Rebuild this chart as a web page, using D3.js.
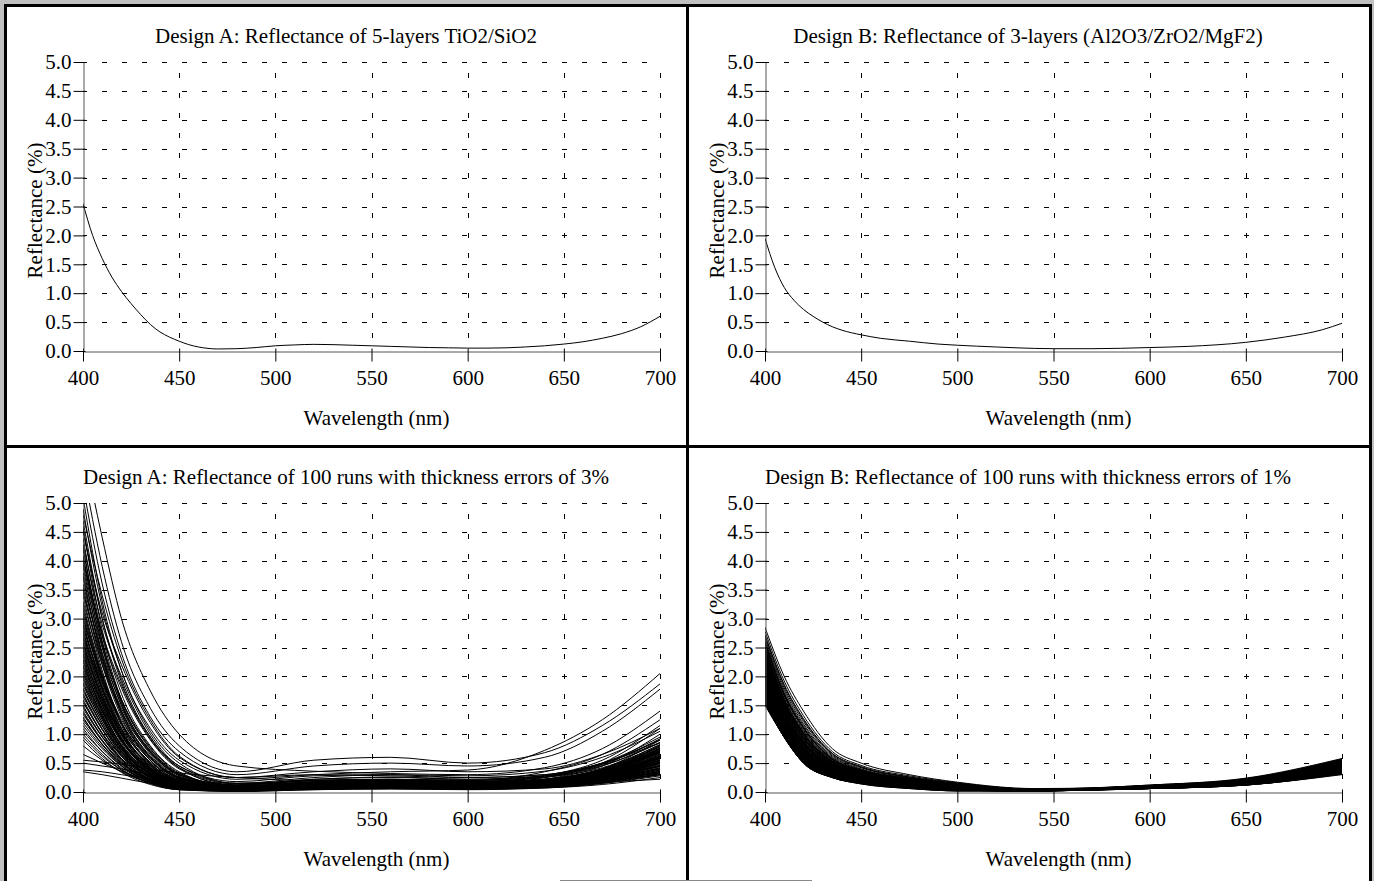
<!DOCTYPE html>
<html lang="en">
<head>
<meta charset="UTF-8">
<title>Reflectance of Design A and Design B</title>
<style>
  body { margin: 0; background: #c0c0c0; }
  svg { display: block; }
</style>
</head>
<body>
<svg id="chart" width="1374" height="881"></svg>
<script src="https://d3js.org/d3.v7.min.js"></script>
<script>
// ---- data ----
const X_TICKS = [400, 450, 500, 550, 600, 650, 700];
const Y_TICKS = [0, 0.5, 1, 1.5, 2, 2.5, 3, 3.5, 4, 4.5, 5];

const TITLES = [
  "Design A: Reflectance of 5-layers TiO2/SiO2",
  "Design B: Reflectance of 3-layers (Al2O3/ZrO2/MgF2)",
  "Design A: Reflectance of 100 runs with thickness errors of 3%",
  "Design B: Reflectance of 100 runs with thickness errors of 1%"
];
const X_LABEL = "Wavelength (nm)";
const Y_LABEL = "Reflectance (%)";

// nominal design A
const WL_NOMINAL_A = [400, 405, 410, 415, 420, 425, 430, 435, 440, 445, 450, 455, 460, 465, 470, 480, 490, 500, 510, 520, 530, 540, 550, 560, 570, 580, 590, 600, 610, 620, 630, 640, 650, 660, 670, 680, 690, 700];
const REFL_NOMINAL_A = [2.55, 2.0, 1.6, 1.28, 1.03, 0.82, 0.63, 0.46, 0.33, 0.24, 0.17, 0.11, 0.07, 0.045, 0.035, 0.04, 0.06, 0.09, 0.105, 0.115, 0.11, 0.1, 0.09, 0.08, 0.07, 0.06, 0.055, 0.05, 0.05, 0.055, 0.07, 0.09, 0.12, 0.16, 0.22, 0.3, 0.42, 0.6];

// nominal design B
const WL_NOMINAL_B = [400, 405, 410, 415, 420, 425, 430, 435, 440, 450, 460, 475, 490, 500, 520, 540, 550, 570, 600, 620, 650, 670, 690, 700];
const REFL_NOMINAL_B = [1.95, 1.45, 1.1, 0.88, 0.72, 0.6, 0.5, 0.42, 0.36, 0.28, 0.22, 0.17, 0.12, 0.1, 0.07, 0.045, 0.04, 0.04, 0.06, 0.08, 0.15, 0.24, 0.37, 0.48];

// design A, 100 runs with 3% thickness errors
const WL_RUNS_A = [400, 410, 420, 435, 450, 480, 520, 560, 600, 640, 670, 700];
const RUNS_A = [
  [6.0, 4.4, 3.0, 1.75, 1.0, 0.45, 0.36, 0.32, 0.3, 0.42, 0.75, 1.4],
  [5.6, 3.9, 2.6, 1.45, 0.8, 0.35, 0.55, 0.6, 0.5, 0.68, 1.15, 1.87],
  [5.3, 3.6, 2.4, 1.3, 0.7, 0.3, 0.45, 0.5, 0.45, 0.6, 1.05, 1.78],
  [5.1, 3.3, 2.1, 1.1, 0.55, 0.22, 0.3, 0.35, 0.38, 0.72, 1.25, 2.05],
  [4.9, 3.2, 2.1, 1.05, 0.5, 0.15, 0.2, 0.22, 0.2, 0.35, 0.65, 1.25],
  [4.7, 3.0, 1.9, 0.95, 0.42, 0.1, 0.15, 0.18, 0.15, 0.28, 0.55, 1.15],
  [4.6, 2.8, 1.7, 0.8, 0.35, 0.08, 0.12, 0.15, 0.12, 0.25, 0.5, 1.1],
  [4.5, 3.1, 2.2, 1.2, 0.6, 0.25, 0.3, 0.28, 0.25, 0.3, 0.5, 0.9],
  [4.4, 2.7, 1.6, 0.75, 0.3, 0.05, 0.1, 0.12, 0.1, 0.22, 0.45, 1.0],
  [4.3, 2.9, 2.0, 1.0, 0.45, 0.15, 0.25, 0.3, 0.25, 0.3, 0.5, 0.85],
  [4.2, 2.6, 1.55, 0.7, 0.28, 0.06, 0.1, 0.1, 0.08, 0.15, 0.35, 0.8],
  [4.1, 2.5, 1.5, 0.65, 0.25, 0.04, 0.12, 0.15, 0.12, 0.2, 0.4, 0.9],
  [4.0, 2.7, 1.8, 0.9, 0.4, 0.12, 0.2, 0.22, 0.2, 0.28, 0.5, 0.95],
  [3.9, 2.4, 1.4, 0.6, 0.22, 0.03, 0.08, 0.1, 0.08, 0.15, 0.35, 0.75],
  [3.8, 2.5, 1.6, 0.78, 0.33, 0.1, 0.18, 0.2, 0.18, 0.25, 0.45, 0.85],
  [3.7, 2.3, 1.35, 0.55, 0.2, 0.03, 0.06, 0.08, 0.06, 0.12, 0.3, 0.7],
  [3.6, 2.4, 1.5, 0.72, 0.3, 0.09, 0.15, 0.18, 0.16, 0.22, 0.4, 0.8],
  [3.5, 2.2, 1.3, 0.55, 0.2, 0.05, 0.1, 0.12, 0.1, 0.18, 0.38, 0.78],
  [3.4, 2.1, 1.2, 0.5, 0.18, 0.04, 0.12, 0.15, 0.12, 0.18, 0.35, 0.7],
  [3.3, 2.2, 1.4, 0.68, 0.3, 0.12, 0.2, 0.2, 0.18, 0.22, 0.38, 0.72],
  [3.2, 2.0, 1.15, 0.48, 0.16, 0.03, 0.08, 0.1, 0.08, 0.14, 0.3, 0.65],
  [3.1, 1.95, 1.1, 0.45, 0.15, 0.04, 0.1, 0.12, 0.1, 0.16, 0.32, 0.68],
  [3.0, 2.0, 1.25, 0.6, 0.25, 0.1, 0.18, 0.2, 0.16, 0.2, 0.35, 0.7],
  [2.95, 1.8, 1.0, 0.4, 0.12, 0.02, 0.06, 0.08, 0.06, 0.12, 0.28, 0.6],
  [2.9, 1.85, 1.05, 0.42, 0.14, 0.05, 0.12, 0.14, 0.12, 0.18, 0.36, 0.74],
  [2.85, 1.9, 1.2, 0.58, 0.26, 0.12, 0.2, 0.22, 0.2, 0.26, 0.42, 0.82],
  [2.8, 1.75, 1.0, 0.4, 0.13, 0.03, 0.08, 0.1, 0.08, 0.14, 0.32, 0.66],
  [2.75, 1.7, 0.95, 0.38, 0.12, 0.04, 0.1, 0.12, 0.1, 0.15, 0.3, 0.62],
  [2.7, 1.8, 1.1, 0.52, 0.22, 0.1, 0.16, 0.18, 0.15, 0.2, 0.36, 0.7],
  [2.65, 1.65, 0.92, 0.36, 0.11, 0.03, 0.07, 0.09, 0.07, 0.12, 0.26, 0.55],
  [2.6, 1.6, 0.9, 0.35, 0.1, 0.02, 0.06, 0.08, 0.06, 0.1, 0.24, 0.52],
  [2.55, 1.6, 1.02, 0.45, 0.17, 0.04, 0.115, 0.08, 0.05, 0.09, 0.22, 0.6],
  [2.5, 1.65, 1.0, 0.48, 0.2, 0.08, 0.14, 0.15, 0.12, 0.18, 0.35, 0.72],
  [2.45, 1.5, 0.85, 0.33, 0.1, 0.03, 0.08, 0.1, 0.08, 0.12, 0.26, 0.56],
  [2.4, 1.55, 0.92, 0.42, 0.17, 0.06, 0.12, 0.14, 0.12, 0.16, 0.3, 0.62],
  [2.35, 1.45, 0.8, 0.3, 0.08, 0.02, 0.06, 0.08, 0.07, 0.11, 0.24, 0.5],
  [2.3, 1.5, 0.9, 0.4, 0.16, 0.07, 0.13, 0.15, 0.13, 0.18, 0.33, 0.68],
  [2.25, 1.4, 0.78, 0.3, 0.09, 0.03, 0.08, 0.1, 0.08, 0.12, 0.25, 0.5],
  [2.2, 1.45, 0.88, 0.4, 0.17, 0.08, 0.15, 0.16, 0.14, 0.2, 0.36, 0.7],
  [2.15, 1.35, 0.75, 0.28, 0.08, 0.02, 0.05, 0.07, 0.06, 0.1, 0.22, 0.46],
  [2.1, 1.38, 0.82, 0.36, 0.14, 0.06, 0.12, 0.14, 0.12, 0.16, 0.3, 0.6],
  [2.05, 1.3, 0.72, 0.27, 0.08, 0.03, 0.07, 0.09, 0.08, 0.12, 0.25, 0.52],
  [2.0, 1.32, 0.8, 0.36, 0.15, 0.08, 0.15, 0.18, 0.16, 0.22, 0.4, 0.78],
  [1.95, 1.25, 0.7, 0.26, 0.07, 0.02, 0.06, 0.08, 0.06, 0.1, 0.2, 0.42],
  [1.9, 1.25, 0.75, 0.33, 0.13, 0.06, 0.12, 0.13, 0.12, 0.15, 0.28, 0.55],
  [1.85, 1.2, 0.7, 0.28, 0.1, 0.04, 0.1, 0.12, 0.1, 0.14, 0.28, 0.58],
  [1.8, 1.15, 0.65, 0.25, 0.07, 0.02, 0.06, 0.08, 0.07, 0.1, 0.2, 0.4],
  [1.75, 1.15, 0.7, 0.32, 0.14, 0.07, 0.14, 0.16, 0.14, 0.18, 0.32, 0.62],
  [1.7, 1.1, 0.62, 0.24, 0.07, 0.03, 0.08, 0.1, 0.08, 0.12, 0.24, 0.48],
  [1.65, 1.08, 0.64, 0.28, 0.11, 0.05, 0.11, 0.12, 0.11, 0.14, 0.26, 0.5],
  [1.6, 1.02, 0.58, 0.22, 0.06, 0.02, 0.05, 0.07, 0.06, 0.09, 0.18, 0.36],
  [1.55, 1.02, 0.62, 0.28, 0.12, 0.06, 0.13, 0.15, 0.13, 0.17, 0.3, 0.58],
  [1.5, 0.95, 0.54, 0.2, 0.05, 0.01, 0.04, 0.06, 0.05, 0.08, 0.16, 0.32],
  [1.45, 0.95, 0.58, 0.26, 0.11, 0.06, 0.12, 0.13, 0.12, 0.15, 0.27, 0.52],
  [1.4, 0.9, 0.52, 0.2, 0.06, 0.03, 0.08, 0.1, 0.08, 0.11, 0.22, 0.44],
  [1.35, 0.88, 0.52, 0.22, 0.09, 0.05, 0.1, 0.12, 0.1, 0.13, 0.24, 0.46],
  [1.3, 0.82, 0.46, 0.17, 0.04, 0.01, 0.04, 0.05, 0.04, 0.07, 0.15, 0.3],
  [1.25, 0.82, 0.5, 0.22, 0.1, 0.06, 0.13, 0.15, 0.13, 0.16, 0.28, 0.5],
  [1.2, 0.78, 0.45, 0.18, 0.06, 0.03, 0.08, 0.1, 0.08, 0.11, 0.2, 0.38],
  [1.15, 0.75, 0.45, 0.2, 0.09, 0.05, 0.11, 0.12, 0.1, 0.13, 0.24, 0.45],
  [1.1, 0.7, 0.4, 0.15, 0.04, 0.02, 0.05, 0.07, 0.06, 0.08, 0.15, 0.28],
  [1.05, 0.7, 0.42, 0.19, 0.08, 0.05, 0.1, 0.12, 0.1, 0.12, 0.22, 0.4],
  [1.0, 0.65, 0.38, 0.15, 0.05, 0.03, 0.07, 0.08, 0.07, 0.09, 0.17, 0.32],
  [0.95, 0.62, 0.38, 0.17, 0.08, 0.05, 0.1, 0.11, 0.1, 0.12, 0.2, 0.36],
  [0.9, 0.58, 0.34, 0.13, 0.04, 0.02, 0.05, 0.06, 0.05, 0.07, 0.13, 0.25],
  [0.8, 0.55, 0.35, 0.16, 0.07, 0.04, 0.08, 0.1, 0.09, 0.11, 0.18, 0.3],
  [0.55, 0.52, 0.48, 0.4, 0.33, 0.25, 0.2, 0.2, 0.18, 0.2, 0.28, 0.45],
  [0.5, 0.45, 0.4, 0.3, 0.22, 0.15, 0.15, 0.16, 0.15, 0.18, 0.25, 0.4],
  [0.38, 0.35, 0.3, 0.22, 0.15, 0.1, 0.12, 0.14, 0.13, 0.15, 0.2, 0.3],
  [0.35, 0.3, 0.24, 0.15, 0.08, 0.05, 0.08, 0.1, 0.1, 0.12, 0.17, 0.22],
  [0.65, 0.5, 0.36, 0.2, 0.1, 0.06, 0.1, 0.12, 0.11, 0.13, 0.2, 0.33],
  [4.8, 3.4, 2.3, 1.25, 0.62, 0.25, 0.35, 0.4, 0.35, 0.4, 0.65, 1.1],
  [4.55, 3.0, 1.95, 0.95, 0.45, 0.18, 0.28, 0.3, 0.28, 0.36, 0.6, 1.05],
  [4.25, 2.6, 1.55, 0.68, 0.26, 0.05, 0.08, 0.08, 0.06, 0.14, 0.32, 0.7],
  [3.95, 2.55, 1.6, 0.75, 0.32, 0.1, 0.16, 0.2, 0.18, 0.26, 0.48, 0.9],
  [3.75, 2.35, 1.4, 0.62, 0.24, 0.06, 0.12, 0.14, 0.12, 0.2, 0.4, 0.82],
  [3.55, 2.25, 1.35, 0.6, 0.24, 0.08, 0.14, 0.16, 0.14, 0.2, 0.36, 0.74],
  [3.45, 2.3, 1.45, 0.7, 0.3, 0.12, 0.22, 0.25, 0.22, 0.28, 0.46, 0.86],
  [3.25, 2.05, 1.2, 0.5, 0.18, 0.05, 0.1, 0.12, 0.1, 0.16, 0.34, 0.68],
  [3.15, 2.0, 1.18, 0.5, 0.2, 0.07, 0.14, 0.16, 0.14, 0.2, 0.38, 0.76],
  [3.05, 1.9, 1.08, 0.43, 0.14, 0.03, 0.07, 0.09, 0.07, 0.13, 0.28, 0.58],
  [2.98, 1.95, 1.2, 0.55, 0.24, 0.1, 0.17, 0.19, 0.17, 0.22, 0.38, 0.75],
  [2.88, 1.8, 1.02, 0.4, 0.13, 0.03, 0.06, 0.08, 0.07, 0.12, 0.26, 0.54],
  [2.78, 1.78, 1.05, 0.46, 0.18, 0.06, 0.12, 0.14, 0.12, 0.18, 0.34, 0.7],
  [2.68, 1.7, 0.98, 0.42, 0.16, 0.06, 0.12, 0.14, 0.12, 0.17, 0.32, 0.64],
  [2.58, 1.62, 0.92, 0.37, 0.12, 0.04, 0.09, 0.11, 0.09, 0.14, 0.28, 0.58],
  [2.48, 1.56, 0.9, 0.38, 0.14, 0.05, 0.1, 0.12, 0.1, 0.15, 0.3, 0.62],
  [2.38, 1.52, 0.88, 0.37, 0.14, 0.05, 0.1, 0.12, 0.11, 0.15, 0.3, 0.6],
  [2.28, 1.42, 0.8, 0.32, 0.1, 0.03, 0.07, 0.09, 0.08, 0.12, 0.25, 0.5],
  [2.18, 1.4, 0.8, 0.34, 0.13, 0.05, 0.1, 0.12, 0.1, 0.15, 0.28, 0.55],
  [2.08, 1.32, 0.76, 0.31, 0.11, 0.04, 0.09, 0.11, 0.09, 0.13, 0.26, 0.52],
  [1.98, 1.28, 0.74, 0.3, 0.11, 0.04, 0.09, 0.11, 0.09, 0.13, 0.26, 0.5],
  [1.88, 1.2, 0.68, 0.27, 0.09, 0.03, 0.08, 0.1, 0.08, 0.12, 0.24, 0.46],
  [1.78, 1.15, 0.66, 0.27, 0.1, 0.04, 0.09, 0.11, 0.09, 0.12, 0.23, 0.45],
  [1.68, 1.08, 0.62, 0.25, 0.09, 0.04, 0.09, 0.1, 0.09, 0.12, 0.22, 0.42],
  [1.58, 1.0, 0.57, 0.22, 0.07, 0.03, 0.07, 0.09, 0.07, 0.1, 0.19, 0.38],
  [1.48, 0.96, 0.56, 0.23, 0.08, 0.04, 0.09, 0.1, 0.09, 0.12, 0.22, 0.4],
  [1.38, 0.88, 0.5, 0.2, 0.07, 0.03, 0.07, 0.09, 0.08, 0.1, 0.18, 0.34],
  [1.28, 0.83, 0.48, 0.2, 0.07, 0.03, 0.07, 0.09, 0.08, 0.1, 0.19, 0.35],
  [4.05, 2.75, 1.85, 0.92, 0.42, 0.14, 0.22, 0.26, 0.22, 0.28, 0.48, 0.92]
];

// design B, 100 runs with 1% thickness errors
const WL_RUNS_B = [400, 410, 420, 435, 450, 475, 500, 540, 600, 650, 700];
const RUNS_B = [
  [2.85, 2.00, 1.40, 0.75, 0.50, 0.30, 0.17, 0.06, 0.10, 0.20, 0.50],
  [2.78, 1.92, 1.32, 0.70, 0.46, 0.28, 0.16, 0.05, 0.08, 0.17, 0.42],
  [2.72, 1.86, 1.27, 0.67, 0.44, 0.26, 0.15, 0.05, 0.11, 0.22, 0.55],
  [2.66, 1.80, 1.22, 0.64, 0.42, 0.25, 0.14, 0.05, 0.07, 0.15, 0.36],
  [2.62, 1.76, 1.18, 0.62, 0.40, 0.24, 0.13, 0.05, 0.12, 0.24, 0.58],
  [2.58, 1.72, 1.15, 0.60, 0.39, 0.23, 0.13, 0.04, 0.09, 0.19, 0.47],
  [2.55, 1.69, 1.12, 0.58, 0.38, 0.23, 0.13, 0.04, 0.06, 0.13, 0.34],
  [2.52, 1.66, 1.10, 0.57, 0.37, 0.22, 0.12, 0.04, 0.10, 0.21, 0.52],
  [2.49, 1.63, 1.07, 0.56, 0.36, 0.21, 0.12, 0.04, 0.08, 0.16, 0.40],
  [2.46, 1.60, 1.05, 0.55, 0.35, 0.21, 0.12, 0.04, 0.11, 0.23, 0.56],
  [2.44, 1.58, 1.03, 0.54, 0.35, 0.20, 0.11, 0.04, 0.07, 0.14, 0.37],
  [2.42, 1.56, 1.01, 0.53, 0.34, 0.20, 0.11, 0.04, 0.09, 0.18, 0.46],
  [2.40, 1.54, 1.00, 0.52, 0.34, 0.20, 0.11, 0.04, 0.10, 0.20, 0.50],
  [2.38, 1.52, 0.98, 0.51, 0.33, 0.19, 0.11, 0.04, 0.06, 0.12, 0.32],
  [2.36, 1.50, 0.97, 0.50, 0.33, 0.19, 0.10, 0.04, 0.12, 0.23, 0.57],
  [2.34, 1.49, 0.95, 0.49, 0.32, 0.19, 0.10, 0.04, 0.08, 0.17, 0.43],
  [2.32, 1.47, 0.94, 0.49, 0.32, 0.18, 0.10, 0.04, 0.09, 0.19, 0.48],
  [2.30, 1.46, 0.93, 0.48, 0.31, 0.18, 0.10, 0.04, 0.07, 0.15, 0.39],
  [2.28, 1.44, 0.92, 0.47, 0.31, 0.18, 0.10, 0.04, 0.11, 0.22, 0.54],
  [2.26, 1.43, 0.90, 0.47, 0.30, 0.17, 0.10, 0.04, 0.08, 0.16, 0.41],
  [2.24, 1.41, 0.89, 0.46, 0.30, 0.17, 0.09, 0.04, 0.10, 0.20, 0.51],
  [2.22, 1.40, 0.88, 0.45, 0.29, 0.17, 0.09, 0.04, 0.06, 0.13, 0.35],
  [2.20, 1.38, 0.87, 0.45, 0.29, 0.17, 0.09, 0.04, 0.09, 0.18, 0.45],
  [2.18, 1.37, 0.86, 0.44, 0.28, 0.16, 0.09, 0.04, 0.11, 0.21, 0.53],
  [2.16, 1.35, 0.85, 0.44, 0.28, 0.16, 0.09, 0.03, 0.07, 0.14, 0.36],
  [2.14, 1.34, 0.84, 0.43, 0.28, 0.16, 0.09, 0.03, 0.08, 0.17, 0.44],
  [2.12, 1.33, 0.83, 0.43, 0.27, 0.16, 0.08, 0.03, 0.10, 0.19, 0.49],
  [2.10, 1.31, 0.82, 0.42, 0.27, 0.15, 0.08, 0.03, 0.06, 0.12, 0.33],
  [2.08, 1.30, 0.81, 0.42, 0.27, 0.15, 0.08, 0.03, 0.09, 0.18, 0.46],
  [2.06, 1.28, 0.80, 0.41, 0.26, 0.15, 0.08, 0.03, 0.11, 0.22, 0.55],
  [2.05, 1.27, 0.79, 0.41, 0.26, 0.15, 0.08, 0.03, 0.07, 0.15, 0.38],
  [2.04, 1.26, 0.78, 0.40, 0.26, 0.15, 0.08, 0.03, 0.08, 0.16, 0.42],
  [2.02, 1.25, 0.77, 0.40, 0.25, 0.14, 0.08, 0.03, 0.10, 0.20, 0.50],
  [2.00, 1.24, 0.76, 0.39, 0.25, 0.14, 0.07, 0.03, 0.06, 0.13, 0.34],
  [1.99, 1.23, 0.75, 0.39, 0.25, 0.14, 0.07, 0.03, 0.09, 0.17, 0.44],
  [1.98, 1.22, 0.75, 0.38, 0.24, 0.14, 0.07, 0.03, 0.11, 0.21, 0.52],
  [1.96, 1.21, 0.74, 0.38, 0.24, 0.14, 0.07, 0.03, 0.07, 0.14, 0.37],
  [1.95, 1.20, 0.73, 0.38, 0.24, 0.13, 0.07, 0.03, 0.08, 0.17, 0.45],
  [1.94, 1.19, 0.72, 0.37, 0.24, 0.13, 0.07, 0.03, 0.10, 0.19, 0.48],
  [1.92, 1.18, 0.71, 0.37, 0.23, 0.13, 0.07, 0.03, 0.06, 0.12, 0.31],
  [1.91, 1.17, 0.71, 0.36, 0.23, 0.13, 0.07, 0.03, 0.09, 0.18, 0.47],
  [1.90, 1.16, 0.70, 0.36, 0.23, 0.13, 0.06, 0.03, 0.11, 0.22, 0.56],
  [1.88, 1.15, 0.69, 0.36, 0.22, 0.12, 0.06, 0.03, 0.07, 0.15, 0.39],
  [1.87, 1.14, 0.68, 0.35, 0.22, 0.12, 0.06, 0.03, 0.08, 0.16, 0.41],
  [1.86, 1.13, 0.67, 0.35, 0.22, 0.12, 0.06, 0.03, 0.10, 0.20, 0.51],
  [1.84, 1.12, 0.67, 0.34, 0.21, 0.12, 0.06, 0.03, 0.06, 0.13, 0.35],
  [1.83, 1.11, 0.66, 0.34, 0.21, 0.12, 0.06, 0.03, 0.09, 0.17, 0.43],
  [1.82, 1.10, 0.65, 0.34, 0.21, 0.11, 0.06, 0.03, 0.11, 0.21, 0.53],
  [1.80, 1.09, 0.64, 0.33, 0.21, 0.11, 0.06, 0.03, 0.07, 0.14, 0.36],
  [1.79, 1.08, 0.64, 0.33, 0.20, 0.11, 0.06, 0.03, 0.08, 0.17, 0.44],
  [1.78, 1.07, 0.63, 0.32, 0.20, 0.11, 0.05, 0.03, 0.10, 0.19, 0.49],
  [1.76, 1.06, 0.62, 0.32, 0.20, 0.11, 0.05, 0.03, 0.06, 0.12, 0.32],
  [1.75, 1.05, 0.61, 0.31, 0.19, 0.10, 0.05, 0.03, 0.09, 0.18, 0.46],
  [1.74, 1.04, 0.60, 0.31, 0.19, 0.10, 0.05, 0.03, 0.11, 0.22, 0.54],
  [1.72, 1.03, 0.60, 0.30, 0.19, 0.10, 0.05, 0.02, 0.07, 0.15, 0.38],
  [1.71, 1.02, 0.59, 0.30, 0.18, 0.10, 0.05, 0.02, 0.08, 0.16, 0.42],
  [1.70, 1.01, 0.58, 0.30, 0.18, 0.09, 0.04, 0.02, 0.10, 0.20, 0.50],
  [1.68, 1.00, 0.57, 0.29, 0.18, 0.09, 0.04, 0.02, 0.06, 0.13, 0.33],
  [1.67, 0.99, 0.56, 0.29, 0.17, 0.09, 0.04, 0.02, 0.09, 0.17, 0.45],
  [1.66, 0.99, 0.56, 0.28, 0.17, 0.09, 0.04, 0.02, 0.11, 0.21, 0.52],
  [1.64, 0.98, 0.55, 0.28, 0.17, 0.08, 0.04, 0.02, 0.07, 0.14, 0.37],
  [1.63, 0.97, 0.54, 0.28, 0.16, 0.08, 0.04, 0.02, 0.08, 0.17, 0.44],
  [1.62, 0.97, 0.53, 0.27, 0.16, 0.08, 0.03, 0.02, 0.10, 0.19, 0.48],
  [1.60, 0.96, 0.53, 0.27, 0.16, 0.08, 0.03, 0.02, 0.06, 0.12, 0.30],
  [1.58, 0.96, 0.52, 0.26, 0.15, 0.07, 0.03, 0.02, 0.09, 0.18, 0.47],
  [1.56, 0.95, 0.51, 0.26, 0.15, 0.07, 0.03, 0.02, 0.11, 0.22, 0.55],
  [1.54, 0.95, 0.51, 0.25, 0.15, 0.07, 0.02, 0.02, 0.07, 0.15, 0.39],
  [1.52, 0.95, 0.50, 0.25, 0.14, 0.06, 0.02, 0.02, 0.08, 0.16, 0.40],
  [1.50, 0.95, 0.50, 0.25, 0.14, 0.06, 0.02, 0.02, 0.10, 0.20, 0.50],
  [2.50, 1.60, 1.02, 0.52, 0.33, 0.19, 0.10, 0.04, 0.09, 0.18, 0.46],
  [2.35, 1.52, 1.00, 0.52, 0.34, 0.20, 0.11, 0.04, 0.08, 0.16, 0.40],
  [2.25, 1.40, 0.86, 0.44, 0.28, 0.16, 0.09, 0.03, 0.10, 0.20, 0.50],
  [2.15, 1.36, 0.86, 0.45, 0.29, 0.17, 0.09, 0.04, 0.07, 0.14, 0.36],
  [2.03, 1.22, 0.74, 0.38, 0.24, 0.13, 0.07, 0.03, 0.09, 0.18, 0.46],
  [1.97, 1.24, 0.77, 0.40, 0.26, 0.15, 0.08, 0.03, 0.11, 0.22, 0.54],
  [1.89, 1.13, 0.67, 0.34, 0.21, 0.12, 0.06, 0.03, 0.06, 0.13, 0.34],
  [1.81, 1.12, 0.68, 0.35, 0.22, 0.12, 0.06, 0.03, 0.08, 0.17, 0.43],
  [1.73, 1.02, 0.59, 0.30, 0.18, 0.10, 0.05, 0.02, 0.10, 0.20, 0.49],
  [1.65, 1.00, 0.57, 0.29, 0.18, 0.09, 0.04, 0.02, 0.07, 0.15, 0.38],
  [1.57, 0.94, 0.51, 0.26, 0.15, 0.07, 0.03, 0.02, 0.09, 0.19, 0.47],
  [2.60, 1.68, 1.10, 0.57, 0.37, 0.22, 0.12, 0.04, 0.10, 0.21, 0.52],
  [2.45, 1.56, 1.00, 0.51, 0.33, 0.19, 0.10, 0.04, 0.07, 0.15, 0.38],
  [2.33, 1.48, 0.95, 0.49, 0.32, 0.18, 0.10, 0.04, 0.11, 0.22, 0.55],
  [2.21, 1.38, 0.86, 0.44, 0.28, 0.16, 0.09, 0.03, 0.08, 0.16, 0.41],
  [2.09, 1.29, 0.80, 0.41, 0.26, 0.15, 0.08, 0.03, 0.10, 0.20, 0.51],
  [2.01, 1.23, 0.75, 0.39, 0.25, 0.14, 0.07, 0.03, 0.07, 0.14, 0.35],
  [1.93, 1.18, 0.71, 0.37, 0.23, 0.13, 0.07, 0.03, 0.09, 0.18, 0.45],
  [1.85, 1.12, 0.66, 0.34, 0.21, 0.12, 0.06, 0.03, 0.11, 0.21, 0.53],
  [1.77, 1.06, 0.62, 0.32, 0.20, 0.11, 0.05, 0.03, 0.07, 0.15, 0.37],
  [1.69, 1.00, 0.57, 0.29, 0.18, 0.09, 0.04, 0.02, 0.08, 0.17, 0.43],
  [1.61, 0.97, 0.53, 0.27, 0.16, 0.08, 0.03, 0.02, 0.10, 0.19, 0.48],
  [1.53, 0.95, 0.50, 0.25, 0.15, 0.07, 0.02, 0.02, 0.06, 0.13, 0.33],
  [2.70, 1.84, 1.25, 0.66, 0.43, 0.26, 0.15, 0.05, 0.09, 0.18, 0.46],
  [2.57, 1.70, 1.12, 0.58, 0.38, 0.23, 0.13, 0.04, 0.11, 0.22, 0.56],
  [2.41, 1.55, 1.01, 0.53, 0.34, 0.20, 0.11, 0.04, 0.06, 0.13, 0.33],
  [2.29, 1.45, 0.92, 0.47, 0.31, 0.18, 0.10, 0.04, 0.10, 0.20, 0.50],
  [2.13, 1.33, 0.83, 0.43, 0.27, 0.16, 0.08, 0.03, 0.08, 0.16, 0.42],
  [1.99, 1.21, 0.74, 0.38, 0.24, 0.14, 0.07, 0.03, 0.10, 0.19, 0.49],
  [1.87, 1.13, 0.67, 0.35, 0.22, 0.12, 0.06, 0.03, 0.07, 0.15, 0.39],
  [1.75, 1.04, 0.61, 0.31, 0.19, 0.10, 0.05, 0.02, 0.09, 0.18, 0.47]
];

// ---- drawing ----
const W = 1374, H = 881;
const FONT = "'Liberation Serif', 'Times New Roman', serif";
const svg = d3.select("#chart");

// window frame
svg.append("rect").attr("width", W).attr("height", H).attr("fill", "#c0c0c0");
svg.append("rect").attr("x", 4).attr("y", 4).attr("width", 1368).attr("height", H - 4).attr("fill", "#fff");
const bars = [
  [4, 4, 1368, 3], [4, 4, 3, H - 4], [1369, 4, 3, H - 4],
  [686, 4, 3, H - 4], [4, 445, 1368, 3]
];
svg.selectAll("rect.frame").data(bars).enter().append("rect")
  .attr("class", "frame")
  .attr("x", d => d[0]).attr("y", d => d[1])
  .attr("width", d => d[2]).attr("height", d => d[3])
  .attr("fill", "#000");
svg.append("line").attr("x1", 560).attr("x2", 812).attr("y1", 880.5).attr("y2", 880.5)
  .attr("stroke", "#888").attr("stroke-width", 1);

const panels = [
  { ox: 0, oy: 0, title: TITLES[0], runs: [WL_NOMINAL_A.map((w, i) => [w, REFL_NOMINAL_A[i]])] },
  { ox: 682, oy: 0, title: TITLES[1], runs: [WL_NOMINAL_B.map((w, i) => [w, REFL_NOMINAL_B[i]])] },
  { ox: 0, oy: 441, title: TITLES[2], runs: RUNS_A.map(r => r.map((v, i) => [WL_RUNS_A[i], v])) },
  { ox: 682, oy: 441, title: TITLES[3], runs: RUNS_B.map(r => r.map((v, i) => [WL_RUNS_B[i], v])) }
];

panels.forEach((p, k) => drawPanel(p, k));

function drawPanel(p, k) {
  const x0 = 83 + p.ox, x1 = 660 + p.ox;
  const y0 = 62 + p.oy, y1 = 351 + p.oy;
  const x = d3.scaleLinear().domain([400, 700]).range([x0, x1]);
  const y = d3.scaleLinear().domain([0, 5]).range([y1, y0]);
  const g = svg.append("g");

  // dashed grid
  g.selectAll("line.hgrid").data(Y_TICKS.filter(v => v > 0)).enter().append("line")
    .attr("x1", x0).attr("x2", x1)
    .attr("y1", d => Math.round(y(d)) + 0.5).attr("y2", d => Math.round(y(d)) + 0.5)
    .attr("stroke", "#000").attr("stroke-width", 1)
    .attr("stroke-dasharray", "5,15").attr("stroke-dashoffset", 1);
  g.selectAll("line.vgrid").data(X_TICKS.filter(v => v > 400)).enter().append("line")
    .attr("x1", d => Math.round(x(d)) + 0.5).attr("x2", d => Math.round(x(d)) + 0.5)
    .attr("y1", y0).attr("y2", y1)
    .attr("stroke", "#000").attr("stroke-width", 1)
    .attr("stroke-dasharray", "5,15").attr("stroke-dashoffset", 9);

  // curves
  const clipId = "clip" + k;
  g.append("clipPath").attr("id", clipId).append("rect")
    .attr("x", x0).attr("y", y0).attr("width", x1 - x0).attr("height", y1 - y0);
  const line = d3.line().x(d => x(d[0])).y(d => y(d[1])).curve(d3.curveMonotoneX);
  g.append("g").attr("clip-path", `url(#${clipId})`)
    .selectAll("path").data(p.runs).enter().append("path")
    .attr("d", line).attr("fill", "none")
    .attr("stroke", "#000").attr("stroke-width", 1);

  // axes
  const ax = g.append("g").attr("transform", `translate(0,${y1 + 0.5})`)
    .call(d3.axisBottom(x).tickValues(X_TICKS).tickSize(10).tickSizeOuter(0).tickPadding(9));
  ax.selectAll(".tick line").attr("y1", -3);
  const ay = g.append("g").attr("transform", `translate(${x0 + 0.5},0)`)
    .call(d3.axisLeft(y).tickValues(Y_TICKS).tickFormat(d3.format(".1f")).tickSize(10).tickSizeOuter(0).tickPadding(2));
  ay.selectAll(".tick line").attr("x1", 2);
  [ax, ay].forEach(a => {
    a.attr("font-family", FONT).attr("font-size", 21);
    a.select(".domain").attr("stroke", "#555");
    a.selectAll(".tick text").attr("fill", "#000");
  });

  // texts
  g.append("text").attr("x", 346 + p.ox).attr("y", y0 - 19)
    .attr("text-anchor", "middle").attr("font-family", FONT).attr("font-size", 21)
    .text(p.title);
  g.append("text").attr("x", (x0 + x1) / 2 + 5).attr("y", y1 + 74)
    .attr("text-anchor", "middle").attr("font-family", FONT).attr("font-size", 21)
    .text(X_LABEL);
  g.append("text")
    .attr("transform", `translate(${42 + p.ox},${(y0 + y1) / 2 + 4}) rotate(-90)`)
    .attr("text-anchor", "middle").attr("font-family", FONT).attr("font-size", 21)
    .text(Y_LABEL);
}
</script>
</body>
</html>
